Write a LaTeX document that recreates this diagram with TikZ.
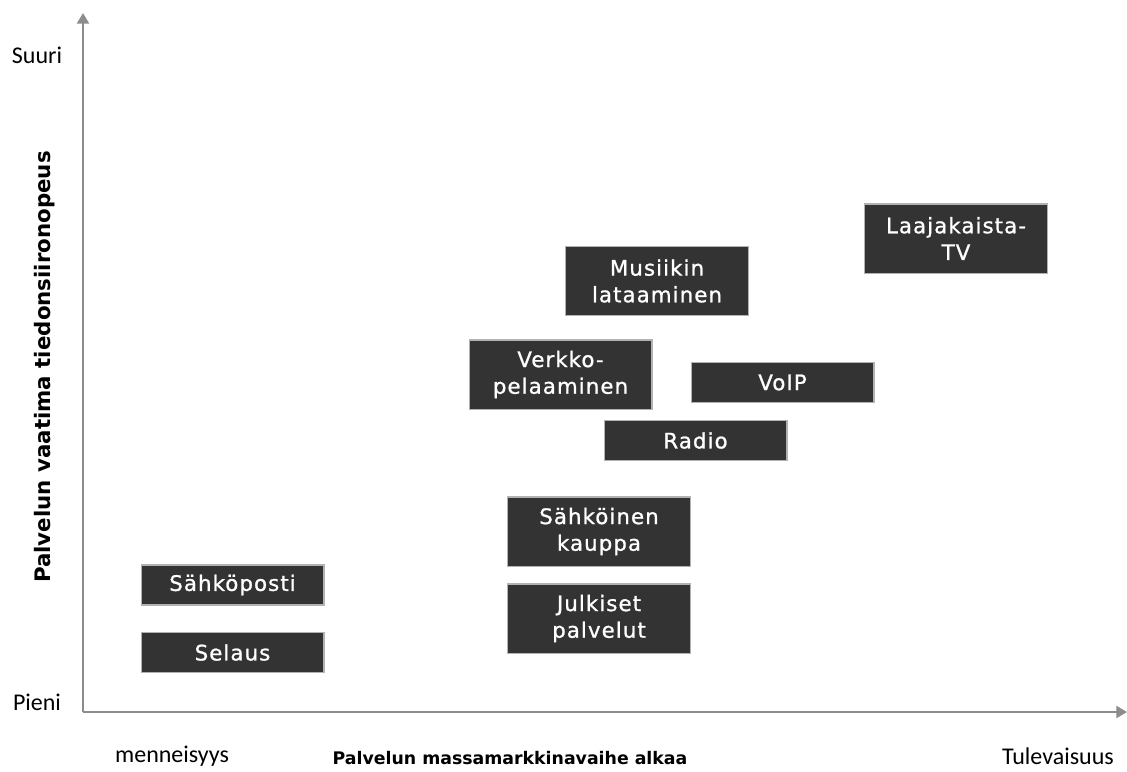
\documentclass[tikz,border=0pt]{standalone}
\usepackage{fontspec}
\setmainfont{DejaVu Sans}
\newfontfamily\laatikkofont[LetterSpace=5,FakeBold=1]{DejaVu Sans}
\newfontfamily\selitefont{Carlito}
\usetikzlibrary{arrows.meta,positioning}

\definecolor{boxfill}{HTML}{333333}
\definecolor{axisgray}{HTML}{8C8C8C}

\tikzset{
  palvelu/.style={draw=gray!60, line width=1pt, fill=boxfill, text=white,
    minimum width=137pt, align=center, inner sep=2pt,
    font=\laatikkofont\fontsize{16}{20}\selectfont},
  yksi/.style={palvelu, minimum height=30pt},
  kaksi/.style={palvelu, minimum height=52pt},
  akseli/.style={draw=axisgray, line width=1.6pt, -{Triangle[width=9pt,length=8pt]}},
  selite/.style={font=\selitefont\fontsize{18}{20}\selectfont, text=black, inner sep=1pt},
  nimi/.style={font=\bfseries\fontsize{13}{15}\selectfont, text=black}
}

\begin{document}
\begin{tikzpicture}[x=0.75pt, y=-0.75pt]
  \useasboundingbox (0,0) rectangle (1127,771);

  \coordinate (O)   at (83,712);
  \coordinate (ylä) at (83,13);
  \coordinate (oik) at (1127,712);

  \draw[akseli] (O) -- (ylä);
  \draw[akseli] (O) -- (oik);

  \node[selite] (suuri) at (37,55)  {Suuri};
  \node[selite] (pieni) at (37,702) {Pieni};
  \node[selite] (menn)  at (172,756) {menneisyys};
  \node[selite] (tulev) at (1058,756) {Tulevaisuus};
  \node[nimi] (xnimi) at (510,758) {Palvelun massamarkkinavaihe alkaa};
  \node[nimi, font=\bfseries\fontsize{16}{18}\selectfont, rotate=90] (ynimi) at (45,367)
    {Palvelun vaatima tiedonsiironopeus};

  \node[yksi]  (sposti)  at (232.5,585)   {Sähköposti};
  \node[yksi]  (selaus)  at (232.5,652.5) {Selaus};
  \node[kaksi] (julkiset) at (599,618.5)  {Julkiset\\palvelut};
  \node[kaksi] (kauppa)  at (599,531.5)   {Sähköinen\\kauppa};
  \node[yksi]  (radio)   at (695.5,440.5) {Radio};
  \node[kaksi] (verkko)  at (560.5,374.5) {Verkko-\\pelaaminen};
  \node[yksi]  (voip)    at (782.5,382.5) {VoIP};
  \node[kaksi] (musiikki) at (657,281)    {Musiikin\\lataaminen};
  \node[kaksi] (laajatv) at (956,238.5)   {Laajakaista-\\TV};
\end{tikzpicture}
\end{document}
